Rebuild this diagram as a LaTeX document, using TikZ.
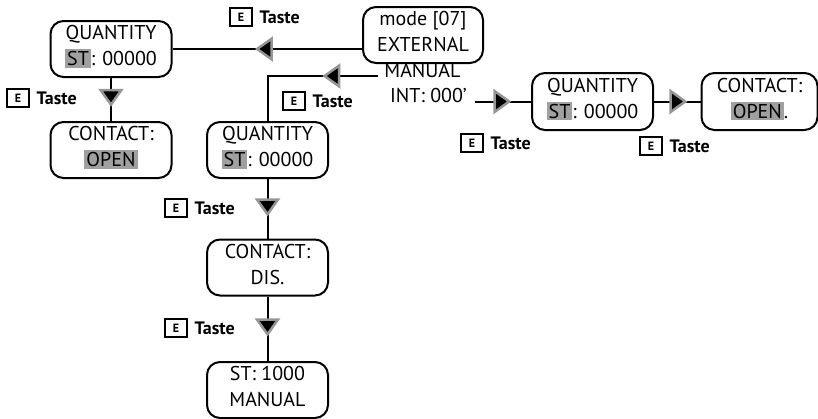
\documentclass[tikz,border=0pt]{standalone}
\usepackage{fontspec}
\setmainfont{PT Sans}
\usepackage{xcolor}
\usepackage{tikz}
\usetikzlibrary{arrows.meta,positioning,decorations.markings}
\definecolor{hlgray}{RGB}{160,160,160}
\definecolor{tipgray}{RGB}{150,150,150}
\newcommand{\hl}[1]{{\setlength{\fboxsep}{2pt}\colorbox{hlgray}{#1}}}

\begin{document}
\begin{tikzpicture}[x=1pt,y=-1pt,
  disp/.style={draw,line width=2pt,rounded corners=13pt,minimum width=121pt,
    minimum height=56pt,align=center,inner sep=0pt,
    font=\fontsize{20}{26}\selectfont,
    execute at end node={\rule[-7pt]{0pt}{7pt}}},
  plain/.style={inner sep=0pt,font=\fontsize{20}{25}\selectfont},
  ekey/.style={draw,line width=2.6pt,minimum width=22pt,minimum height=18pt,
    inner sep=0pt,font=\fontsize{12}{12}\selectfont\bfseries},
  taste/.style={inner sep=0pt,font=\fontsize{18}{20}\selectfont\bfseries},
  flow/.style={line width=2pt,
    decoration={markings,mark=at position #1 with
      {\arrow{Triangle[length=18pt,width=25pt,line width=2.5pt,color=tipgray,fill=black]}}},
    postaction={decorate}}]
  \useasboundingbox (0,0) rectangle (818,418);
  % ---- mode display
  \node[disp,minimum width=120pt] (mode) at (423,35) {mode [07]\\EXTERNAL};
  \node[plain] (manual) at (422.5,70.5) {MANUAL};
  \node[plain] (int) at (428.5,95.5) {INT: 000’};
  \coordinate (manEnd) at (378,76);
  \coordinate (intEnd) at (475,101.5);
  % ---- external
  \node[disp] (qtyExt) at (111,49) {QUANTITY\\\hl{ST}: 00000};
  \node[disp] (contactExt) at (111,150) {CONTACT:\\\hl{OPEN}};
  \draw[flow=0.565] (qtyExt.east -| mode.west) -- (qtyExt.east);
  \draw[flow=0.67] (qtyExt.south) -- (contactExt.north);
  \node[ekey] (keyTop) at (241,17) {E};
  \node[taste,right=6pt of keyTop] (tasteTop) {Taste};
  \node[ekey] (keyLeft) at (18,98) {E};
  \node[taste,right=6pt of keyLeft] (tasteLeft) {Taste};
  % ---- manual
  \node[disp] (qtyMan) at (267.5,150) {QUANTITY\\\hl{ST}: 00000};
  \node[disp] (contactMan) at (267.5,267.5) {CONTACT:\\DIS.};
  \node[disp] (stMan) at (267.5,390) {ST: 1000\\MANUAL};
  \draw[flow=0.358] (manEnd) -- (manEnd -| qtyMan.north) -- (qtyMan.north);
  \draw[flow=0.63] (qtyMan.south) -- (contactMan.north);
  \draw[flow=0.62] (contactMan.south) -- (stMan.north);
  \node[ekey] (keyMan) at (294,101) {E};
  \node[taste,right=6pt of keyMan] (tasteMan) {Taste};
  \node[ekey] (keyCont) at (176,208) {E};
  \node[taste,right=6pt of keyCont] (tasteCont) {Taste};
  \node[ekey] (keyDis) at (176,328) {E};
  \node[taste,right=6pt of keyDis] (tasteDis) {Taste};
  % ---- internal
  \node[disp,minimum height=57pt] (qtyInt) at (592.5,101.5) {QUANTITY\\\hl{ST}: 00000};
  \node[disp,minimum width=116pt,minimum height=57pt] (contactInt) at (759.5,101.5) {CONTACT:\\\hl{OPEN}.};
  \draw[flow=0.65] (intEnd) -- (qtyInt.west);
  \draw[flow=0.72] (qtyInt.east) -- (contactInt.west);
  \node[ekey] (keyInt) at (472,143) {E};
  \node[taste,right=6pt of keyInt] (tasteInt) {Taste};
  \node[ekey] (keyQty) at (651,146) {E};
  \node[taste,right=6pt of keyQty] (tasteQty) {Taste};
\end{tikzpicture}
\end{document}
